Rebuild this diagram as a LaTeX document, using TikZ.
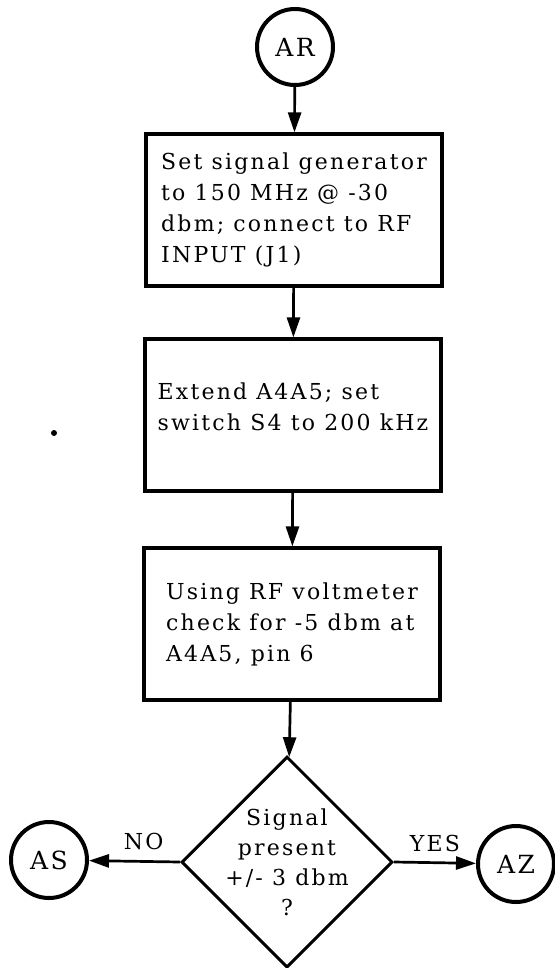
\documentclass[tikz,border=0pt]{standalone}
\usepackage{fontspec}
\setmainfont{DejaVu Serif}[LetterSpace=10]
\usetikzlibrary{arrows.meta,shapes.geometric}
\tikzset{
  stepbox/.style={draw,line width=3.2pt,minimum width=296pt,minimum height=152pt,align=left,font=\fontsize{22}{31}\selectfont},
  linkcircle/.style={draw,circle,line width=4pt,minimum size=76pt,inner sep=0pt,font=\fontsize{25}{25}\selectfont},
  flowarrow/.style={line width=2.7pt,-{Triangle[length=20pt,width=13pt]}},
  answer/.style={inner sep=0pt,font=\fontsize{22}{22}\selectfont}
}

\begin{document}
\begin{tikzpicture}[x=1pt,y=-1pt]
\useasboundingbox (0,0) rectangle (554,968);
\node[linkcircle] (AR) at (295,47) {AR};
\node[stepbox] (setgen) at (294,210) {Set signal generator\\to 150 MHz @ -30\\dbm; connect to RF\\INPUT (J1)};
\node[stepbox] (extend) at (293,415) {Extend A4A5; set\\switch S4 to 200 kHz\\[-15pt]\mbox{}};
\node[stepbox] (check) at (292,624) {Using RF voltmeter\\check for -5 dbm at\\A4A5, pin 6};
\node[draw,diamond,line width=3pt,minimum width=211pt,minimum height=211pt,inner sep=0pt] (present) at (287,862) {};
\node[align=center,font=\fontsize{22}{30}\selectfont] (presenttext) at (present) {Signal\\present\\+/- 3 dbm\\?};
\node[linkcircle] (AS) at (49,860) {AS};
\node[linkcircle] (AZ) at (516,864) {AZ};
\draw[flowarrow] (AR) -- (setgen);
\draw[flowarrow] (setgen) -- (extend);
\draw[flowarrow] (extend) -- (check);
\draw[flowarrow] (check) -- (present);
\draw[flowarrow] (present.west) -- node[answer,above=10pt,pos=0.4] {NO} (AS);
\draw[flowarrow] (present.east) -- node[answer,above=10pt] {YES} (AZ);
\fill (54,433) circle[radius=3pt];
\end{tikzpicture}
\end{document}
